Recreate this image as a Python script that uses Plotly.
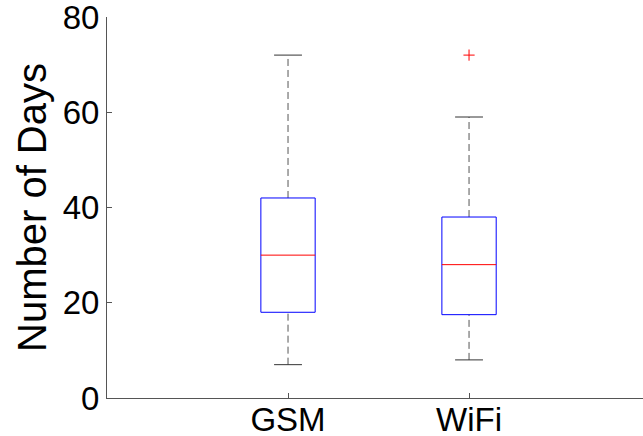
import plotly.graph_objects as go

categories = ["GSM", "WiFi"]
lower_whisker = [7, 8]
q1 = [18, 17.5]
median = [30, 28]
q3 = [42, 38]
upper_whisker = [72, 59]
outliers = [[], [72]]
y_ticks = [0, 20, 40, 60, 80]

half_box = 0.15
half_cap = 0.077

box_x, box_y = [], []
med_x, med_y = [], []
wh_x, wh_y = [], []
cap_x, cap_y = [], []
out_x, out_y = [], []
for i, c in enumerate(categories):
    p = i + 1
    box_x += [p - half_box, p + half_box, p + half_box, p - half_box, p - half_box, None]
    box_y += [q1[i], q1[i], q3[i], q3[i], q1[i], None]
    med_x += [p - half_box, p + half_box, None]
    med_y += [median[i], median[i], None]
    wh_x += [p, p, None, p, p, None]
    wh_y += [q3[i], upper_whisker[i], None, lower_whisker[i], q1[i], None]
    cap_x += [p - half_cap, p + half_cap, None, p - half_cap, p + half_cap, None]
    cap_y += [upper_whisker[i], upper_whisker[i], None, lower_whisker[i], lower_whisker[i], None]
    for o in outliers[i]:
        out_x.append(p)
        out_y.append(o)

fig = go.Figure()
fig.add_trace(go.Scatter(x=wh_x, y=wh_y, mode="lines",
                         line=dict(color="#555555", width=1, dash="7px,4px"), hoverinfo="skip"))
fig.add_trace(go.Scatter(x=cap_x, y=cap_y, mode="lines",
                         line=dict(color="#333333", width=1), hoverinfo="skip"))
fig.add_trace(go.Scatter(x=box_x, y=box_y, mode="lines",
                         line=dict(color="#0000ff", width=1), hoverinfo="skip"))
fig.add_trace(go.Scatter(x=med_x, y=med_y, mode="lines",
                         line=dict(color="#ff0000", width=1), hoverinfo="skip"))
fig.add_trace(go.Scatter(x=out_x, y=out_y, mode="markers",
                         marker=dict(symbol="cross-thin", size=8,
                                     line=dict(color="#ff0000", width=1)),
                         hoverinfo="skip"))

fig.update_layout(
    width=643, height=436,
    margin=dict(l=107, r=0, t=17, b=38),
    plot_bgcolor="white", paper_bgcolor="white",
    showlegend=False,
    font=dict(family="Liberation Sans, Arial, sans-serif", color="black", size=33),
)
fig.update_xaxes(
    range=[0, 2.961], tickmode="array", tickvals=[1, 2], ticktext=categories,
    showline=True, linecolor="#555555", linewidth=1,
    ticks="inside", ticklen=5, tickcolor="#555555",
    showgrid=False, zeroline=False, tickfont=dict(size=33),
    automargin=False, ticklabeloverflow="allow", ticklabelstandoff=-8,
)
fig.update_yaxes(
    range=[0, 80], tickmode="array", tickvals=y_ticks,
    showline=True, linecolor="#555555", linewidth=1,
    ticks="inside", ticklen=5, tickcolor="#555555",
    showgrid=False, zeroline=False, tickfont=dict(size=33),
    automargin=False, ticklabeloverflow="allow",
    title=dict(text="Number of Days", font=dict(size=40), standoff=3),
)

fig.write_html("out.html")
